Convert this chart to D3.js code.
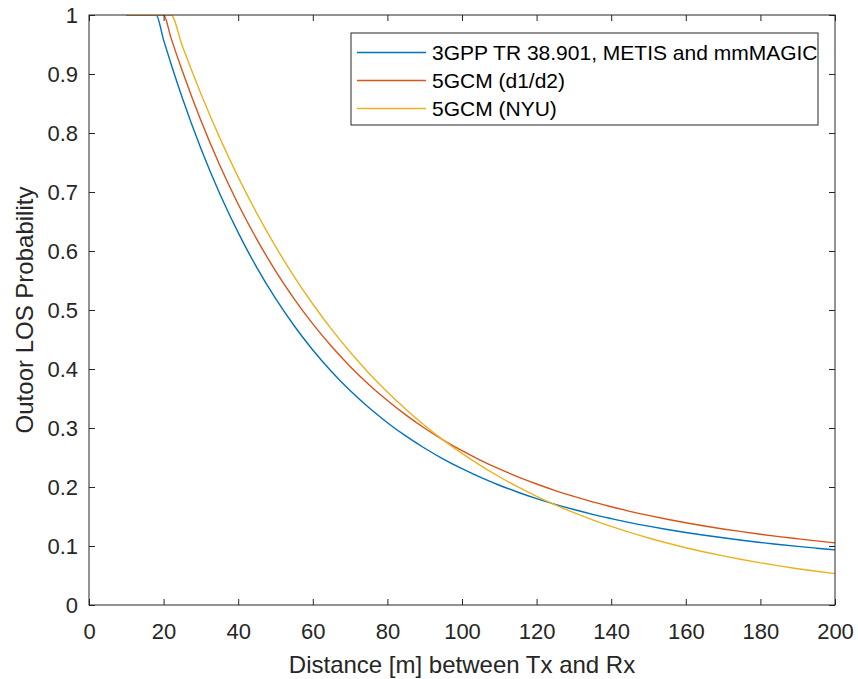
<!DOCTYPE html>
<html>
<head>
<meta charset="utf-8">
<script src="https://cdn.jsdelivr.net/npm/d3@7"></script>
<style>
  body { margin: 0; background: #fff; }
  svg { display: block; font-family: "Liberation Sans", Arial, sans-serif; }
</style>
</head>
<body>
<div id="chart"></div>
<script>
// distance [m] at which the curves were read
const distance = [10, 15, 18, 20, 22, 25, 30, 35, 40, 45, 50, 55, 60, 65, 70, 75, 80, 85, 90, 95,
  100, 105, 110, 115, 120, 125, 130, 135, 140, 145, 150, 155, 160, 165, 170, 175, 180, 185, 190, 195, 200];

const los3gpp = [1, 1, 1, 0.9574, 0.9169, 0.8598, 0.7738, 0.6980, 0.6311, 0.5719, 0.5196, 0.4733, 0.4322, 0.3958,
  0.3634, 0.3346, 0.3090, 0.2861, 0.2657, 0.2474, 0.2310, 0.2162, 0.2030, 0.1911, 0.1803, 0.1706, 0.1618,
  0.1537, 0.1465, 0.1397, 0.1336, 0.1280, 0.1229, 0.1182, 0.1139, 0.1098, 0.1060, 0.1026, 0.0993, 0.0963, 0.0935];

const los5gcm = [1, 1, 1, 1, 0.9608, 0.9054, 0.8211, 0.7461, 0.6793, 0.6197, 0.5665, 0.5190, 0.4765, 0.4385,
  0.4044, 0.3739, 0.3465, 0.3218, 0.2996, 0.2796, 0.2616, 0.2453, 0.2306, 0.2172, 0.2051, 0.1940, 0.1840,
  0.1748, 0.1666, 0.1588, 0.1518, 0.1454, 0.1394, 0.1339, 0.1289, 0.1243, 0.1199, 0.1159, 0.1122, 0.1086, 0.1053];

const losNyu = [1, 1, 1, 1, 1, 0.9477, 0.8666, 0.7926, 0.7253, 0.6639, 0.6078, 0.5567, 0.5102, 0.4676,
  0.4288, 0.3933, 0.3609, 0.3313, 0.3043, 0.2795, 0.2570, 0.2363, 0.2174, 0.2001, 0.1843, 0.1698, 0.1565,
  0.1444, 0.1332, 0.1230, 0.1136, 0.1050, 0.0971, 0.0898, 0.0832, 0.0771, 0.0715, 0.0663, 0.0615, 0.0571, 0.0531];

const seriesNames = ['3GPP TR 38.901, METIS and mmMAGIC', '5GCM (d1/d2)', '5GCM (NYU)'];
const seriesColors = ['#0072BD', '#D95319', '#EDB120'];
const xTicks = [0, 20, 40, 60, 80, 100, 120, 140, 160, 180, 200];
const yTicks = [0, 0.1, 0.2, 0.3, 0.4, 0.5, 0.6, 0.7, 0.8, 0.9, 1];

const width = 858, height = 679;
const margin = {top: 15, right: 23, bottom: 74, left: 89};
const w = width - margin.left - margin.right;
const h = height - margin.top - margin.bottom;
const axisColor = '#262626';

const svg = d3.select('#chart').append('svg')
  .attr('width', width)
  .attr('height', height);

const g = svg.append('g')
  .attr('transform', 'translate(' + margin.left + ',' + margin.top + ')');

const x = d3.scaleLinear().domain([0, 200]).range([0, w]);
const y = d3.scaleLinear().domain([0, 1]).range([h, 0]);

const series = [los3gpp, los5gcm, losNyu].map((vals, i) => ({
  name: seriesNames[i],
  color: seriesColors[i],
  points: distance.map((d, j) => ({d: d, p: vals[j]}))
}));

const line = d3.line()
  .curve(d3.curveMonotoneX)
  .x(p => x(p.d))
  .y(p => y(p.p));

g.append('clipPath').attr('id', 'clip')
  .append('rect').attr('width', w).attr('height', h);

g.append('g').attr('clip-path', 'url(#clip)')
  .selectAll('path.line')
  .data(series)
  .enter()
  .append('path')
  .attr('class', 'line')
  .attr('fill', 'none')
  .attr('stroke', d => d.color)
  .attr('stroke-width', 1.4)
  .attr('d', d => line(d.points));

// box axes with inward ticks, MATLAB style
function styleAxis(sel, showText) {
  sel.attr('font-family', null).attr('font-size', null);
  sel.select('.domain').remove();
  sel.selectAll('line').attr('stroke', axisColor);
  sel.selectAll('text')
    .attr('fill', axisColor)
    .style('font-size', '22px')
    .style('display', showText ? null : 'none');
}

g.append('g')
  .attr('transform', 'translate(0,' + h + ')')
  .call(d3.axisBottom(x).tickValues(xTicks).tickSize(-6).tickPadding(18).tickFormat(d3.format('d')))
  .call(s => styleAxis(s, true));

g.append('g')
  .call(d3.axisTop(x).tickValues(xTicks).tickSize(-6))
  .call(s => styleAxis(s, false));

g.append('g')
  .call(d3.axisLeft(y).tickValues(yTicks).tickSize(-6).tickPadding(11).tickFormat(d => d === 0 || d === 1 ? d3.format('d')(d) : d3.format('.1f')(d)))
  .call(s => styleAxis(s, true));

g.append('g')
  .attr('transform', 'translate(' + w + ',0)')
  .call(d3.axisRight(y).tickValues(yTicks).tickSize(-6))
  .call(s => styleAxis(s, false));

g.append('rect')
  .attr('width', w)
  .attr('height', h)
  .attr('fill', 'none')
  .attr('stroke', axisColor)
  .attr('stroke-width', 1);

// axis titles
svg.append('text')
  .attr('x', margin.left + w / 2)
  .attr('y', 673)
  .attr('text-anchor', 'middle')
  .attr('fill', axisColor)
  .style('font-size', '24px')
  .text('Distance [m] between Tx and Rx');

svg.append('text')
  .attr('transform', 'translate(33,' + (margin.top + h / 2) + ') rotate(-90)')
  .attr('text-anchor', 'middle')
  .attr('fill', axisColor)
  .style('font-size', '24px')
  .text('Outoor LOS Probability');

// legend
const legend = svg.append('g').attr('transform', 'translate(351,33)');
legend.append('rect')
  .attr('width', 467)
  .attr('height', 92)
  .attr('fill', '#fff')
  .attr('stroke', axisColor)
  .attr('stroke-width', 1);

const item = legend.selectAll('g.item')
  .data(series)
  .enter()
  .append('g')
  .attr('class', 'item')
  .attr('transform', (d, i) => 'translate(0,' + (19.5 + i * 28) + ')');

item.append('line')
  .attr('x1', 6).attr('x2', 75)
  .attr('stroke', d => d.color)
  .attr('stroke-width', 1.4);

item.append('text')
  .attr('x', 81)
  .attr('dy', '0.35em')
  .attr('fill', '#000')
  .style('font-size', '21px')
  .text(d => d.name);
</script>
</body>
</html>
